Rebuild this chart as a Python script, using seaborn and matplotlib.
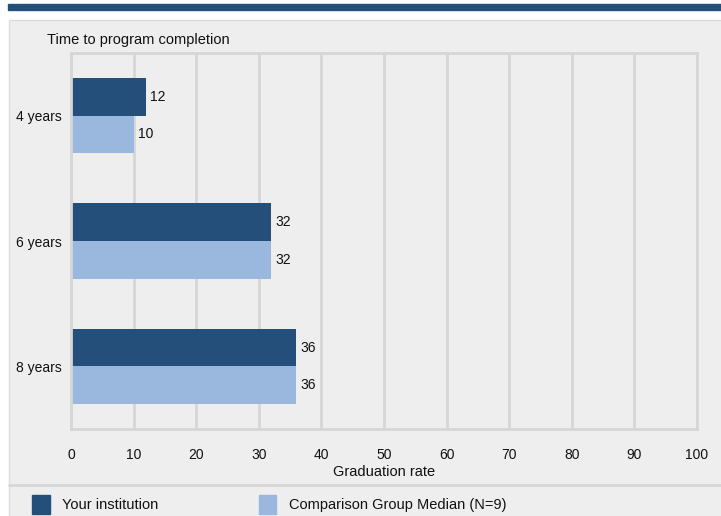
import pandas as pd
import matplotlib.pyplot as plt
import seaborn as sns
from matplotlib.patches import Rectangle

# dados
categorias = ['4 years', '6 years', '8 years']
instituicao = [12, 32, 36]
mediana = [10, 32, 36]
series = ['Your institution', 'Comparison Group Median (N=9)']

dados = pd.DataFrame({
    'tempo': categorias * 2,
    'taxa': instituicao + mediana,
    'grupo': [series[0]] * 3 + [series[1]] * 3,
})

sns.set_style('white')
plt.rcParams['font.family'] = ['Liberation Sans', 'DejaVu Sans']

cor_escura = '#244f7b'
cor_clara = '#9ab8dd'
cinza = '#d6d6d6'
fundo = '#eeeeee'

fig = plt.figure(figsize=(7.21, 5.16), dpi=100)
W, H = 721, 516

# faixa azul no topo e painel cinza
fig.patches.append(Rectangle((8 / W, 1 - 9.5 / H), 1, 5 / H, transform=fig.transFigure,
                             color=cor_escura, zorder=-2))
fig.patches.append(Rectangle((8.5 / W, -0.1), 1, 1 - 20 / H + 0.1, transform=fig.transFigure,
                             facecolor=fundo, edgecolor='#dcdcdc', lw=1, zorder=-2))
# linha separando legenda
fig.add_artist(plt.Line2D([8.5 / W, 1], [1 - 485 / H] * 2, transform=fig.transFigure,
                          color=cinza, lw=2, zorder=-1))

ax = fig.add_axes([71 / W, 1 - 429 / H, (697 - 71) / W, (429 - 53) / H])
ax.set_facecolor(fundo)

sns.barplot(data=dados, y='tempo', x='taxa', hue='grupo', orient='h',
            palette=[cor_escura, cor_clara], width=0.6, ax=ax, legend=False,
            saturation=1, linewidth=0)

for c in ax.containers:
    ax.bar_label(c, padding=3, fontsize=10, color='#111111')

ax.set_xlim(0, 100)
ax.set_xticks(range(0, 101, 10))
ax.grid(axis='x', color=cinza, lw=2)
ax.set_axisbelow(True)
for lado in ['top', 'right', 'left', 'bottom']:
    ax.spines[lado].set_color(cinza)
    ax.spines[lado].set_linewidth(2)
ax.tick_params(axis='x', length=8, width=2, color=cinza, labelsize=10, pad=6,
               labelcolor='#111111')
ax.tick_params(axis='y', length=0, labelsize=10, pad=7, labelcolor='#111111')
ax.set_xlabel('Graduation rate', fontsize=10.5, color='#111111', labelpad=2)
ax.set_ylabel('')

fig.text(47 / W, 1 - 40 / H, 'Time to program completion', fontsize=10.5,
         color='#111111', va='center')

# legenda
alcas = [Rectangle((0, 0), 1, 1, color=cor_escura), Rectangle((0, 0), 1, 1, color=cor_clara)]
fig.legend(alcas, series, loc='upper left', bbox_to_anchor=(32 / W, 1 - 495 / H),
           ncol=2, frameon=False, fontsize=10.5, handlelength=1.2, handleheight=1.6,
           columnspacing=6.9, handletextpad=0.85, labelcolor='#111111',
           borderpad=0, borderaxespad=0)

plt.savefig('out.png', dpi=100)
